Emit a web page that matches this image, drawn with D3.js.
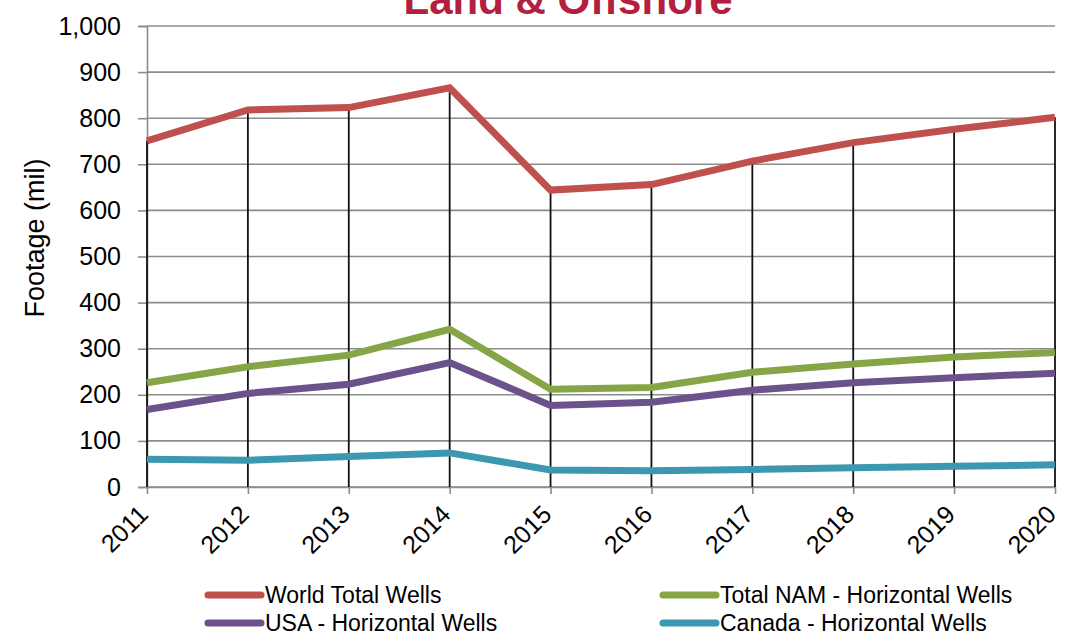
<!DOCTYPE html>
<html>
<head>
<meta charset="utf-8">
<script src="https://cdn.jsdelivr.net/npm/d3@7"></script>
<style>
  html, body { margin: 0; padding: 0; background: #fff; }
  svg { display: block; font-family: "Liberation Sans", Arial, sans-serif; }
</style>
</head>
<body>
<svg id="chart" width="1077" height="632"></svg>
<script>
// Drilled footage by year (millions of feet)
const years = ["2011","2012","2013","2014","2015","2016","2017","2018","2019","2020"];
const worldTotal = [751, 818, 823, 866, 644, 656, 707, 747, 776, 802];
const namHorizontal = [226, 261, 286, 342, 212, 216, 249, 267, 282, 292];
const usaHorizontal = [168, 203, 223, 270, 177, 184, 210, 226, 237, 247];
const canadaHorizontal = [60, 58, 66, 74, 37, 35, 38, 42, 45, 48];
const yTicks = [0, 100, 200, 300, 400, 500, 600, 700, 800, 900, 1000];

const series = [
  { name: "World Total Wells", values: worldTotal, color: "#c0504d" },
  { name: "Total NAM - Horizontal Wells", values: namHorizontal, color: "#86a546" },
  { name: "USA - Horizontal Wells", values: usaHorizontal, color: "#6b528b" },
  { name: "Canada - Horizontal Wells", values: canadaHorizontal, color: "#3c97b0" }
];

const svg = d3.select("#chart");
const plotLeft = 147, plotRight = 1055, plotTop = 26, plotBottom = 487;

const x = d3.scalePoint().domain(years).range([plotLeft, plotRight]);
const y = d3.scaleLinear().domain([0, 1000]).range([plotBottom, plotTop]);

// Horizontal gridlines
svg.append("g")
  .selectAll("line")
  .data(yTicks)
  .join("line")
  .attr("x1", plotLeft).attr("x2", plotRight)
  .attr("y1", d => y(d)).attr("y2", d => y(d))
  .attr("stroke", "#8c8c8c").attr("stroke-width", 1.6);

// Y axis
const yAxis = svg.append("g")
  .attr("transform", `translate(${plotLeft},0)`)
  .call(d3.axisLeft(y).tickValues(yTicks).tickSize(9).tickPadding(17)
    .tickFormat(d3.format(",")));
yAxis.select(".domain").attr("stroke", "#8c8c8c").attr("stroke-width", 1.6);
yAxis.selectAll(".tick line").attr("stroke", "#8c8c8c").attr("stroke-width", 1.6);
yAxis.selectAll(".tick text")
  .attr("font-size", 25).attr("fill", "#000")
  .style("font-family", "'Liberation Sans', Arial, sans-serif");

// X axis
const xAxis = svg.append("g")
  .attr("transform", `translate(0,${plotBottom})`)
  .call(d3.axisBottom(x).tickSize(7).tickSizeOuter(0));
xAxis.select(".domain").attr("stroke", "#8c8c8c").attr("stroke-width", 1.6);
xAxis.selectAll(".tick line").attr("stroke", "#8c8c8c").attr("stroke-width", 1.6);
xAxis.selectAll(".tick text")
  .attr("font-size", 25).attr("fill", "#000")
  .style("font-family", "'Liberation Sans', Arial, sans-serif")
  .attr("text-anchor", "end")
  .attr("dy", null)
  .attr("y", 0)
  .attr("transform", "translate(2,29) rotate(-45)");

// Drop lines from the top series down to the axis
svg.append("g")
  .selectAll("line")
  .data(years.map((yr, i) => ({ yr, v: worldTotal[i] })))
  .join("line")
  .attr("x1", d => x(d.yr)).attr("x2", d => x(d.yr))
  .attr("y1", d => y(d.v)).attr("y2", y(0))
  .attr("stroke", "#111").attr("stroke-width", 1.8);

// Series lines
const line = d3.line()
  .x((d, i) => x(years[i]))
  .y(d => y(d));

svg.append("g")
  .selectAll("path")
  .data(series)
  .join("path")
  .attr("d", d => line(d.values))
  .attr("fill", "none")
  .attr("stroke", d => d.color)
  .attr("stroke-width", 7)
  .attr("stroke-linejoin", "miter")
  .attr("stroke-linecap", "butt");

// Title
svg.append("text")
  .attr("x", 568).attr("y", 14)
  .attr("text-anchor", "middle")
  .attr("font-size", 42).attr("font-weight", "bold")
  .attr("fill", "#b3203f")
  .text("Land & Offshore");

// Y axis title
svg.append("text")
  .attr("transform", "translate(44,238) rotate(-90)")
  .attr("text-anchor", "middle")
  .attr("font-size", 27).attr("fill", "#000")
  .text("Footage (mil)");

// Legend
const legendPos = [
  { x: 205, y: 595 },
  { x: 660, y: 595 },
  { x: 205, y: 623 },
  { x: 660, y: 623 }
];
const legend = svg.append("g")
  .selectAll("g")
  .data(series)
  .join("g")
  .attr("transform", (d, i) => `translate(${legendPos[i].x},${legendPos[i].y})`);
legend.append("line")
  .attr("x1", 3).attr("x2", 56).attr("y1", 0).attr("y2", 0)
  .attr("stroke", d => d.color).attr("stroke-width", 7)
  .attr("stroke-linecap", "round");
legend.append("text")
  .attr("x", 60).attr("y", 8)
  .attr("font-size", 23).attr("fill", "#000")
  .text(d => d.name);
</script>
</body>
</html>
